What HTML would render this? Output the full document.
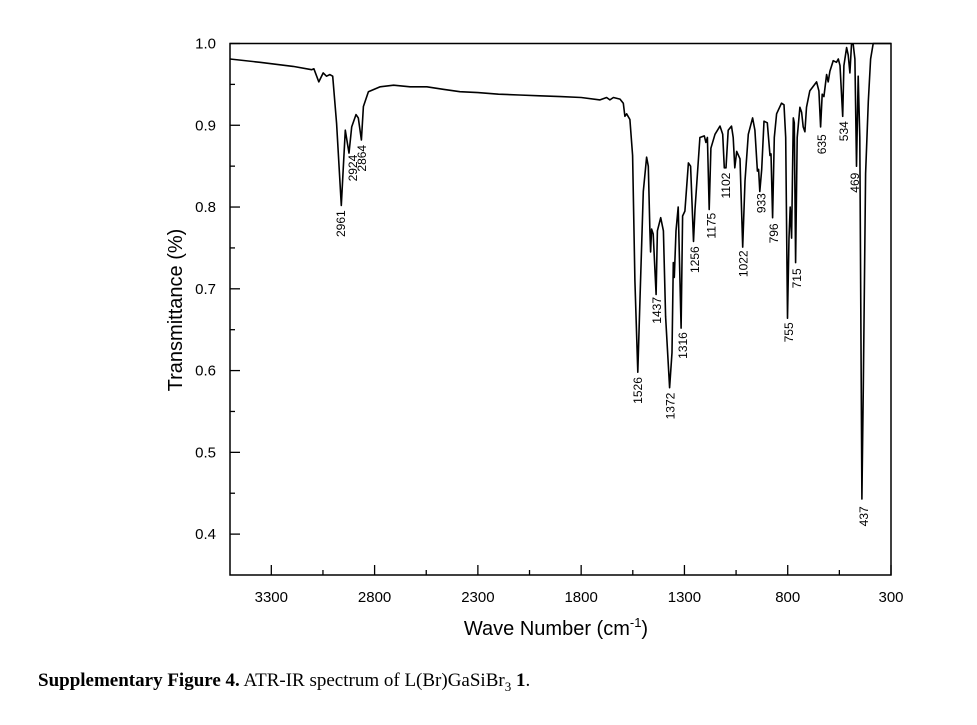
<!DOCTYPE html>
<html><head><meta charset="utf-8"><style>
body{margin:0;background:#fff;width:977px;height:725px;overflow:hidden}
svg{display:block}
.cap{position:absolute;left:38px;top:670px;font-family:"Liberation Serif",serif;font-size:19px;color:#000}
</style></head><body>
<svg id="chart" width="977" height="725" xmlns="http://www.w3.org/2000/svg" font-family="Liberation Sans, sans-serif"></svg>
<div class="cap"><b>Supplementary Figure 4.</b> ATR-IR spectrum of L(Br)GaSiBr<sub style="font-size:13px">3</sub> <b>1</b>.</div>
<script>
const wavenumbers=[3500,3355,3194,3105,3094,3070,3049,3033,3017,3003,2984,2961,2952,2942,2924,2911,2890,2879,2864,2854,2830,2773,2708,2628,2547,2468,2387,2300,2200,2100,2000,1900,1800,1709,1677,1661,1644,1612,1596,1588,1580,1564,1551,1540,1526,1515,1499,1483,1475,1467,1464,1459,1451,1437,1431,1415,1402,1391,1372,1360,1354,1349,1341,1330,1316,1309,1298,1281,1270,1256,1249,1225,1204,1196,1189,1180,1172,1152,1128,1115,1107,1099,1088,1072,1064,1056,1047,1031,1018,1007,991,970,959,947,941,935,926,915,899,886,881,873,865,854,830,818,810,801,794,788,781,773,768,762,754,741,733,725,717,709,693,660,649,641,633,625,612,604,596,580,564,555,547,534,528,515,507,499,491,483,475,467,459,451,441,434,423,410,399,386,370,300];
const transmittance=[0.981,0.977,0.972,0.968,0.969,0.953,0.964,0.96,0.962,0.96,0.902,0.802,0.846,0.894,0.866,0.898,0.913,0.909,0.882,0.923,0.941,0.947,0.949,0.947,0.947,0.944,0.941,0.94,0.938,0.937,0.936,0.935,0.934,0.931,0.934,0.931,0.934,0.932,0.927,0.911,0.914,0.907,0.863,0.71,0.598,0.688,0.819,0.861,0.85,0.771,0.745,0.773,0.767,0.693,0.771,0.787,0.771,0.666,0.579,0.622,0.732,0.714,0.771,0.8,0.652,0.789,0.795,0.854,0.85,0.758,0.797,0.885,0.887,0.879,0.885,0.797,0.872,0.889,0.899,0.889,0.848,0.848,0.894,0.899,0.885,0.848,0.868,0.859,0.751,0.832,0.889,0.909,0.894,0.844,0.846,0.819,0.846,0.905,0.903,0.863,0.865,0.787,0.885,0.914,0.927,0.925,0.885,0.664,0.762,0.8,0.762,0.909,0.903,0.732,0.885,0.922,0.916,0.898,0.892,0.922,0.942,0.953,0.942,0.898,0.938,0.935,0.962,0.953,0.966,0.979,0.977,0.981,0.973,0.911,0.973,0.995,0.986,0.964,0.999,0.999,0.981,0.85,0.96,0.885,0.443,0.579,0.841,0.929,0.981,1.0,1.0,1.0];
const xTicks=[3300,2800,2300,1800,1300,800,300];
const yTicks=[0.4,0.5,0.6,0.7,0.8,0.9,1.0];
const peakLabels=["2961","2924","2864","1526","1437","1372","1316","1256","1175","1102","1022","933","796","755","715","635","534","469","437"];
const peakLabelWn=[2963,2905,2861,1524,1432,1367,1306,1249,1168,1099,1015,927,867,794,754,633,527,475,431];
const peakLabelT=[0.796,0.864,0.876,0.592,0.69,0.573,0.647,0.752,0.793,0.842,0.747,0.817,0.78,0.659,0.725,0.889,0.905,0.842,0.434];

const svg=document.getElementById('chart');
const NS='http://www.w3.org/2000/svg';
const L=230,R=891,T=43.5,B=575,X0=3500,X1=300,Y0=0.35,Y1=1.0;
const sx=w=>L+(X0-w)/(X0-X1)*(R-L);
const sy=v=>B-(v-Y0)/(Y1-Y0)*(B-T);
function mk(tag,attrs){const e=document.createElementNS(NS,tag);for(const k in attrs)e.setAttribute(k,attrs[k]);svg.appendChild(e);return e;}

const frame=mk('rect',{x:L,y:T,width:R-L,height:B-T,fill:'none',stroke:'#000','stroke-width':1.5});



for(let w=3300;w>=300;w-=250){
  const major=xTicks.includes(w);
  const t=mk('line',{x1:sx(w),x2:sx(w),y1:B,y2:B-(major?10:5),stroke:'#000','stroke-width':1.3});
  
  
}
xTicks.forEach(w=>{
  const t=mk('text',{x:sx(w),y:B+27,'font-size':15,'text-anchor':'middle'});
  t.textContent=w;
  
  
});
for(let v=0.4;v<=1.0001;v+=0.05){
  const major=Math.abs(v*10-Math.round(v*10))<0.01;
  const t=mk('line',{x1:L,x2:L+(major?10:5),y1:sy(v),y2:sy(v),stroke:'#000','stroke-width':1.3});
  
  
}
yTicks.forEach(v=>{
  const t=mk('text',{x:216,y:sy(v)+5,'font-size':15,'text-anchor':'end'});
  t.textContent=v.toFixed(1);
  
  
});

let d='';
wavenumbers.forEach((w,i)=>{d+=(i?'L':'M')+sx(w).toFixed(1)+','+Math.max(T,sy(transmittance[i])).toFixed(1);});
const line=mk('path',{d:d,fill:'none',stroke:'#000','stroke-width':1.6,'stroke-linejoin':'round'});



peakLabels.forEach((s,i)=>{
  const x=sx(peakLabelWn[i]),y=sy(peakLabelT[i]);
  const t=mk('text',{x:x,y:y,'font-size':12,'text-anchor':'end','dominant-baseline':'central',transform:`rotate(-90 ${x} ${y})`});
  t.textContent=s;
  
  
});

const yt=mk('text',{x:182,y:310,'font-size':20,'text-anchor':'middle',transform:'rotate(-90 182 310)'});
yt.textContent='Transmittance (%)';


const xt=mk('text',{x:556,y:635,'font-size':20,'text-anchor':'middle'});
xt.innerHTML='Wave Number (cm<tspan dy="-8" font-size="13">-1</tspan><tspan dy="8">)</tspan>';


</script>
</body></html>
